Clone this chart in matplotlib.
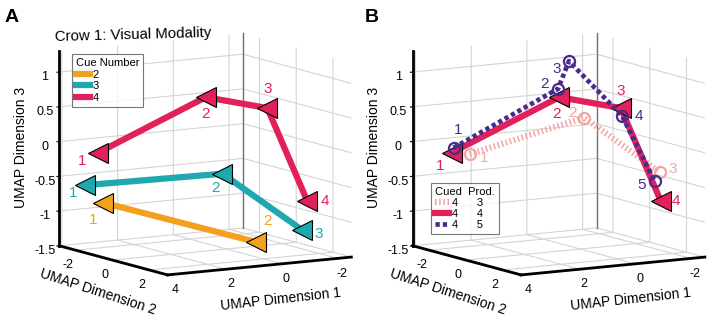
import matplotlib
matplotlib.use('Agg')
import matplotlib.pyplot as plt
from matplotlib.lines import Line2D
from mpl_toolkits.mplot3d import proj3d

plt.rcParams['font.family'] = ['Liberation Sans', 'DejaVu Sans']
plt.rcParams['axes.unicode_minus'] = False
plt.rcParams['grid.color'] = '#d4d4d4'
plt.rcParams['grid.linewidth'] = 0.8

# ---------------- data (UMAP coordinates) ----------------
# Panel A: trajectories for cue numbers 2, 3, 4
c2_x = [3.41, -0.51]
c2_y = [-1.54, 0.85]
c2_z = [-0.81, -1.36]

c3_x = [3.87, 0.36, -1.68]
c3_y = [-1.82, 0.32, 1.56]
c3_z = [-0.56, -0.38, -1.18]

c4_x = [3.54, 0.79, -0.79, -1.81]
c4_y = [-1.62, 0.06, 1.02, 1.64]
c4_z = [-0.09, 0.72, 0.57, -0.76]

# Panel B: cued 4 / produced 3, 4, 5
p3_x = [3.08, 0.15, -1.78]
p3_y = [-1.34, 0.45, 1.63]
p3_z = [-0.11, 0.43, -0.35]

p4_x = c4_x
p4_y = c4_y
p4_z = c4_z

p5_x = [3.49, 0.82, 0.54, -0.82, -1.66]
p5_y = [-1.59, 0.04, 0.21, 1.03, 1.55]
p5_z = [-0.02, 0.84, 1.24, 0.46, -0.48]

x_ticks = [-2, 0, 2, 4]
y_ticks = [-2, 0, 2]
z_ticks = [-1.5, -1, -0.5, 0, 0.5, 1]
z_ticklabels = ['-1.5', '-1', '-0.5', '0', '0.5', '1']
x_lim = (-2.5, 4.1)
y_lim = (-2.9, 3.0)
z_lim = (-1.5, 1.3)

# ---------------- style ----------------
RED = '#E2215A'
TEAL = '#1FA9AE'
ORANGE = '#F4A01F'
PURPLE = '#4A2A8A'
PINK = '#F2A6A2'
PINK_DASH = (0.25, 0.42)
PURPLE_DASH = (0.9, 0.65)

fig = plt.figure(figsize=(7.2, 3.23), dpi=100)


def setup(ax):
    ax.set_proj_type('ortho')
    ax.set_box_aspect((1.04, 1.02, 0.956), zoom=1.08)
    ax.view_init(elev=9.3, azim=59.0)
    ax.set_xlim(*x_lim)
    ax.set_ylim(*y_lim)
    ax.set_zlim(*z_lim)
    ax.set_xticks(x_ticks)
    ax.set_yticks(y_ticks)
    ax.set_zticks(z_ticks)
    ax.set_xticklabels([str(v) for v in x_ticks])
    ax.set_yticklabels([str(v) for v in y_ticks])
    ax.set_zticklabels(z_ticklabels)
    for a in (ax.xaxis, ax.yaxis, ax.zaxis):
        a.set_pane_color((1, 1, 1, 0))
        a.pane.set_edgecolor('none')
        a.line.set_color('black')
        a.line.set_linewidth(2.0)
        a._axinfo['tick']['inward_factor'] = 0.15
        a._axinfo['tick']['outward_factor'] = 0.0
        a._axinfo['tick']['linewidth'] = {True: 0.8, False: 0.5}
        a._axinfo['tick']['color'] = 'black'
    ax.tick_params(axis='x', labelsize=9, pad=-3)
    ax.tick_params(axis='y', labelsize=9, pad=-3)
    ax.tick_params(axis='z', labelsize=9, pad=-2)
    ax.set_zlabel('UMAP Dimension 3', fontsize=10, labelpad=-5)
    # back corner edge
    ax.plot([x_lim[0], x_lim[0]], [y_lim[0], y_lim[0]], list(z_lim),
            color='#707070', lw=1.0, zorder=1)


def axis_labels(x0):
    fig.text((x0 + 98) / 720, 1 - 292 / 323, 'UMAP Dimension 2', fontsize=10,
             ha='center', va='center', rotation=-18, rotation_mode='anchor')
    fig.text((x0 + 281) / 720, 1 - 299 / 323, 'UMAP Dimension 1', fontsize=10,
             ha='center', va='center', rotation=6.3, rotation_mode='anchor')


def traj(ax, xs, ys, zs, color, ls='-', lw=4.5, marker='<', ms=14,
         mfc=None, mec='black', mew=0.8, z=3, dash=None):
    kw = {}
    if dash is not None:
        kw['dashes'] = dash
    ax.plot(xs, ys, zs, color=color, lw=lw, ls=ls, solid_capstyle='butt',
            dash_capstyle='butt', zorder=z, **kw)
    ax.plot(xs, ys, zs, ls='none', marker=marker, ms=ms,
            mfc=color if mfc is None else mfc, mec=mec, mew=mew, zorder=z + 0.5)


def labels(ax, xs, ys, zs, color, offs, z=6):
    M = ax.get_proj()
    for i, (x, y, zz) in enumerate(zip(xs, ys, zs)):
        dx, dy = offs[i]
        xp, yp, _ = proj3d.proj_transform(x, y, zz, M)
        ax.annotate(str(i + 1), xy=(xp, yp), xycoords='data',
                    xytext=(dx, -dy), textcoords='offset pixels',
                    color=color, fontsize=11, ha='center', va='center',
                    zorder=z, annotation_clip=False)


# ---------------- Panel A ----------------
axA = fig.add_axes([0.029, 0.0093, 0.5, 1.0], projection='3d', computed_zorder=False)
setup(axA)
axis_labels(0)
traj(axA, c2_x, c2_y, c2_z, ORANGE, z=3)
traj(axA, c3_x, c3_y, c3_z, TEAL, z=4)
traj(axA, c4_x, c4_y, c4_z, RED, z=5)

hA = [Line2D([], [], color=ORANGE, lw=4.5),
      Line2D([], [], color=TEAL, lw=4.5),
      Line2D([], [], color=RED, lw=4.5)]
legA = fig.legend(hA, ['2', '3', '4'], title='Cue Number', loc='upper left',
                  bbox_to_anchor=(72 / 720, 1 - 54 / 323), borderaxespad=0,
                  fontsize=8, title_fontsize=8, handlelength=1.3,
                  handletextpad=0.2, labelspacing=0.15, borderpad=0.35,
                  frameon=True, fancybox=False, edgecolor='#555555',
                  alignment='left')
legA.get_frame().set_linewidth(0.8)

fig.text(55 / 720, 1 - 35 / 323, 'Crow 1: Visual Modality', fontsize=10.8,
         ha='left', va='center', rotation=1.5)

# ---------------- Panel B ----------------
axB = fig.add_axes([0.52, 0.0093, 0.5, 1.0], projection='3d', computed_zorder=False)
setup(axB)
axis_labels(350)
traj(axB, p3_x, p3_y, p3_z, PINK, lw=4.5, dash=PINK_DASH, marker='o', ms=8,
     mfc='none', mec=PINK, mew=1.6, z=3)
traj(axB, p4_x, p4_y, p4_z, RED, z=4)
traj(axB, p5_x, p5_y, p5_z, PURPLE, lw=3.4, dash=PURPLE_DASH, marker='o', ms=8,
     mfc='none', mec=PURPLE, mew=1.6, z=5)

hB = [Line2D([], [], color=PINK, lw=4.5, dashes=PINK_DASH, dash_capstyle='butt'),
      Line2D([], [], color=RED, lw=4.5),
      Line2D([], [], color=PURPLE, lw=3.4, dashes=PURPLE_DASH, dash_capstyle='butt')]
legB = fig.legend(hB, ['4      3', '4      4', '4      5'], title='Cued  Prod.',
                  loc='upper left', bbox_to_anchor=(431 / 720, 1 - 183 / 323),
                  borderaxespad=0, fontsize=8, title_fontsize=8,
                  handlelength=1.3, handletextpad=0.2, labelspacing=0.1,
                  borderpad=0.35, frameon=True, fancybox=False,
                  edgecolor='#555555', alignment='left')
legB.get_frame().set_linewidth(0.8)

fig.text(12 / 720, 1 - 18 / 323, 'A', fontsize=14, fontweight='bold', ha='center', va='center')
fig.text(372 / 720, 1 - 18 / 323, 'B', fontsize=14, fontweight='bold', ha='center', va='center')

# point labels need the final projection
fig.canvas.draw()
labels(axA, c2_x, c2_y, c2_z, ORANGE, [(-10, 17), (11, -21)])
labels(axA, c3_x, c3_y, c3_z, TEAL, [(-12, 8), (-7, 14), (17, 4)])
labels(axA, c4_x, c4_y, c4_z, RED, [(-16, 8), (0, 17), (0, -19), (18, 0)])
labels(axB, p3_x, p3_y, p3_z, PINK, [(14, 4), (-12, -5), (13, -3)])
labels(axB, p4_x, p4_y, p4_z, RED, [(-12, 13), (-3, 17), (0, -17), (15, 0)])
labels(axB, p5_x, p5_y, p5_z, PURPLE, [(4, -18), (-14, -5), (-12, 8), (17, 0), (-13, 4)])

fig.savefig('out.png', dpi=100)
